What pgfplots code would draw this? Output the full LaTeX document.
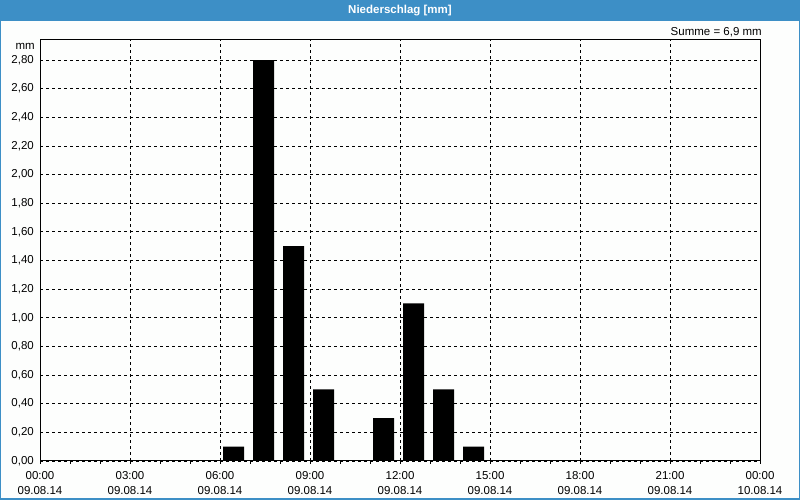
\documentclass[border=0pt]{standalone}
\usepackage{pgfplots}
\pgfplotsset{compat=1.18}
\usepackage{fontspec}
\setmainfont{Liberation Sans}
\definecolor{winblue}{RGB}{61,143,198}
\definecolor{bgw}{RGB}{253,254,253}
\begin{document}
\begin{tikzpicture}[x=1bp,y=1bp,font=\fontsize{11.5bp}{13bp}\selectfont]
\useasboundingbox (0,0) rectangle (800,500);
\fill[bgw] (0,0) rectangle (800,500);
\fill[winblue] (0,479) rectangle (800,500);
\draw[winblue, line width=1.5bp] (0.75,0.75) rectangle (799.25,479.5);
\node[white, font=\fontsize{11.5bp}{13bp}\selectfont\bfseries] at (400,489.5) {Niederschlag [mm]};
\node[anchor=east, inner sep=0pt] at (762,468) {Summe = 6,9 mm};
\node[anchor=east, inner sep=0pt] at (35,454) {mm};
\begin{axis}[
  at={(40bp,39bp)}, anchor=south west,
  width=720bp, height=421bp, scale only axis,
  xmin=0, xmax=24, ymin=0, ymax=2.94,
  axis line style={black, line width=1bp},
  grid=major,
  major grid style={black, dash pattern=on 3bp off 3bp, line width=0.9bp},
  xtick={0,3,6,9,12,15,18,21,24},
  xticklabels={{00:00\\09.08.14},{03:00\\09.08.14},{06:00\\09.08.14},{09:00\\09.08.14},{12:00\\09.08.14},{15:00\\09.08.14},{18:00\\09.08.14},{21:00\\09.08.14},{00:00\\10.08.14}},
  minor xtick={1,2,4,5,7,8,10,11,13,14,16,17,19,20,22,23},
  xtick pos=bottom, ytick pos=left,
  tick align=outside,
  major tick length=3bp, minor tick length=3bp,
  tick style={black, line width=0.9bp},
  xticklabel style={align=center, font=\fontsize{11.5bp}{15.5bp}\selectfont, inner sep=0pt, yshift=-7bp},
  ytick={0,0.2,0.4,0.6,0.8,1.0,1.2,1.4,1.6,1.8,2.0,2.2,2.4,2.6,2.8},
  ytick style={draw=none},
  yticklabel style={anchor=east, inner sep=0pt, xshift=-3bp, /pgf/number format/.cd, fixed, fixed zerofill, precision=2, use comma, assume math mode=true},
  ylabel={}, xlabel={},
]
\addplot[ybar, bar width=0.7, bar shift=0pt, fill=black, draw=none] coordinates {
  (6.45,0.1) (7.45,2.8) (8.45,1.5) (9.45,0.5) (11.45,0.3) (12.45,1.1) (13.45,0.5) (14.45,0.1)
};
\end{axis}
\end{tikzpicture}
\end{document}
